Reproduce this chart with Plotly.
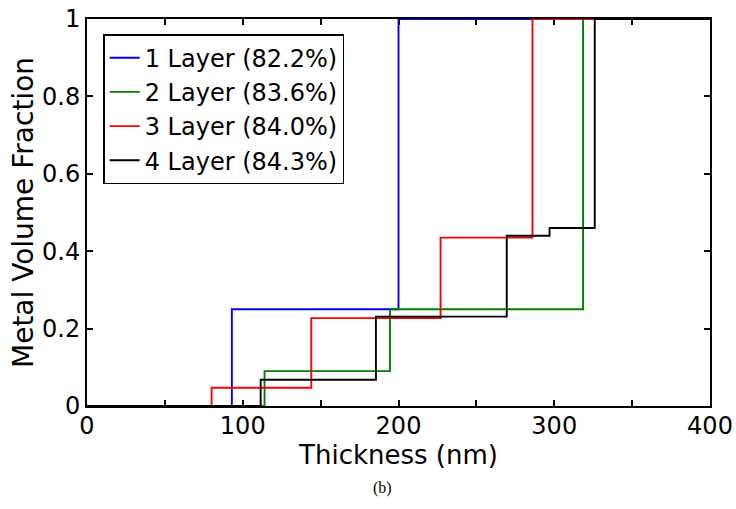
import plotly.graph_objects as go

# Step profiles of metal volume fraction versus film thickness
names = ["1 Layer (82.2%)", "2 Layer (83.6%)", "3 Layer (84.0%)", "4 Layer (84.3%)"]
colors = ["#0000ff", "#008000", "#ff0000", "#000000"]

x1 = [0, 93, 200, 400]
y1 = [0, 0.25, 1, 1]

x2 = [0, 114, 194.5, 318.5, 400]
y2 = [0, 0.09, 0.25, 1, 1]

x3 = [0, 80, 144, 227, 286, 400]
y3 = [0, 0.047, 0.227, 0.435, 1, 1]

x4 = [0, 111.5, 185.5, 269.5, 297, 326, 400]
y4 = [0, 0.068, 0.231, 0.44, 0.46, 1, 1]

xs = [x1, x2, x3, x4]
ys = [y1, y2, y3, y4]

FONT = "DejaVu Sans"

fig = go.Figure()
for name, color, x, y in zip(names, colors, xs, ys):
    fig.add_trace(go.Scatter(
        x=x, y=y, name=name, mode="lines",
        line=dict(color=color, width=1.9, shape="hv"),
    ))

axis_common = dict(
    showline=True, linecolor="black", linewidth=2, mirror="ticks",
    ticks="inside", ticklen=6, tickwidth=1.5, tickcolor="black",
    showgrid=False, zeroline=False, layer="below traces", automargin=False,
    tickfont=dict(family=FONT, size=24, color="black"),
)

fig.update_xaxes(
    range=[0, 400], tickvals=[0, 100, 200, 300, 400],
    minor=dict(tickvals=[50, 150, 250, 350], ticks="inside", ticklen=6,
               tickwidth=1.5, tickcolor="black"),
    ticklabelstandoff=-3,
    title=dict(text="Thickness (nm)", font=dict(family=FONT, size=26, color="black"),
               standoff=0),
    **axis_common,
)
fig.update_yaxes(
    range=[0, 1], tickvals=[0, 0.2, 0.4, 0.6, 0.8, 1],
    ticktext=["0", "0.2", "0.4", "0.6", "0.8", "1"],
    title=dict(text="Metal Volume Fraction", font=dict(family=FONT, size=28, color="black"),
               standoff=0),
    **axis_common,
)

fig.add_annotation(
    text="(b)", xref="paper", yref="paper", x=0.475, y=-0.213,
    showarrow=False, xanchor="center", yanchor="middle",
    font=dict(family="Liberation Serif", size=16, color="black"),
)

fig.update_layout(
    width=736, height=509,
    margin=dict(l=87, r=26, t=19, b=103),
    paper_bgcolor="white", plot_bgcolor="white",
    showlegend=True,
    legend=dict(
        x=0.026, y=0.961, xanchor="left", yanchor="top",
        bgcolor="white", bordercolor="black", borderwidth=1.5,
        font=dict(family=FONT, size=24, color="black"),
        itemwidth=30, tracegroupgap=0,
    ),
)

fig.write_html("out.html")
